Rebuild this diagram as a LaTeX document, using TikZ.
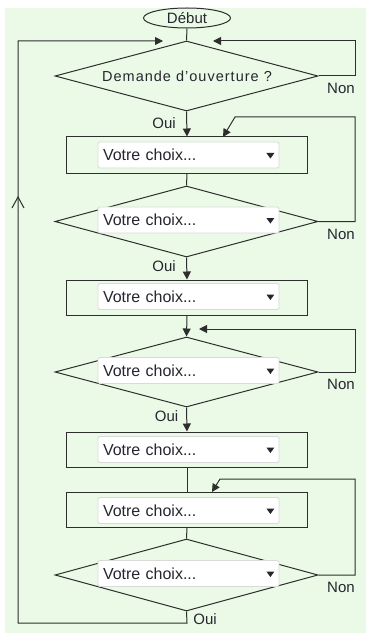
\documentclass[tikz,border=0pt]{standalone}
\usepackage{fontspec}
\setmainfont{Liberation Sans}
\usetikzlibrary{shapes.geometric,arrows.meta,calc}
\definecolor{bggreen}{HTML}{EAFAE6}
\definecolor{ln}{HTML}{2E2E2E}
\definecolor{txt}{HTML}{262630}
\definecolor{cbborder}{HTML}{DADADA}
\newcommand{\combobox}[3]{%
  \node[combo] (#1) at (#2,#3) {Votre choix...};
  \fill[txt] ($(#1.east)+(-13,-2)$) -- ($(#1.east)+(-5,-2)$) -- ($(#1.east)+(-9,3.5)$) -- cycle;}
\begin{document}
\begin{tikzpicture}[x=1bp,y=-1bp,
  every node/.style={font=\fontsize{15bp}{18bp}\selectfont, text=txt},
  line/.style={draw=ln, line width=1bp},
  arr/.style={line, -{Triangle[length=8bp,width=8bp]}},
  rectbox/.style={line, rectangle, minimum width=240bp, inner sep=0pt},
  decision/.style={line, diamond, minimum width=263bp, inner sep=0pt},
  start/.style={line, ellipse, minimum width=87bp, minimum height=20bp, inner sep=0pt},
  combo/.style={rectangle, fill=white, draw=cbborder, line width=0.8bp, rounded corners=1.5bp,
    minimum width=181bp, minimum height=26bp, text width=171bp, align=left, inner xsep=5bp, inner ysep=0pt,
    font=\fontsize{16bp}{18bp}\selectfont},
  lbl/.style={inner sep=0pt, font=\fontsize{15bp}{18bp}\selectfont}
]
\useasboundingbox (0,0) rectangle (373,637);
\fill[white] (0,0) rectangle (373,637);
\fill[bggreen] (5,8) rectangle (366,633);

% shapes
\node[start] (debut) at (187,18) {Début};
\node[decision, minimum height=70bp] (d1) at (186.5,76) {};
\node[lbl, font=\fontsize{14.5bp}{18bp}\selectfont\addfontfeature{LetterSpace=7}] (q1) at (187,76) {Demande d'ouverture ?};
\node[rectbox, minimum height=36bp] (r1) at (187,155) {};
\combobox{c1}{188.5}{155}
\node[decision, minimum height=71bp] (d2) at (186.5,221.5) {};
\combobox{c2}{188.5}{220}
\node[rectbox, minimum height=35bp] (r2) at (187,297.5) {};
\combobox{c3}{188.5}{296.5}
\node[decision, minimum height=70bp] (d3) at (186.5,372) {};
\combobox{c4}{188.5}{370.5}
\node[rectbox, minimum height=35bp] (r3) at (187,449.5) {};
\combobox{c5}{188.5}{449.5}
\node[rectbox, minimum height=35bp] (r4) at (187,509.5) {};
\combobox{c6}{188.5}{510.5}
\node[decision, minimum height=72bp] (d4) at (186.5,575) {};
\combobox{c7}{188.5}{573.5}

% labels
\node[lbl] (oui1) at (164,123) {Oui};
\node[lbl] (oui2) at (164,266) {Oui};
\node[lbl] (oui3) at (166.5,416) {Oui};
\node[lbl] (oui4) at (205,619) {Oui};
\node[lbl] (non1) at (341,88) {Non};
\node[lbl] (non2) at (341,234) {Non};
\node[lbl] (non3) at (341,384) {Non};
\node[lbl] (non4) at (341,587) {Non};

% coordinates for free ends
\coordinate (t1l) at (163,41);
\coordinate (t1r) at (213,41);
\coordinate (r1in) at (223,137);
\coordinate (d3in) at (199,329);
\coordinate (r4in) at (212,492);
\coordinate (chev) at (18,197);

% main flow
\draw[line] (debut.south) -- (d1.north);
\draw[arr] (d1.south) -- (r1.north);
\draw[line] (r1.south) -- (d2.north);
\draw[arr] (d2.south) -- (r2.north);
\draw[arr] (r2.south) -- (d3.north);
\draw[arr] (d3.south) -- (r3.north);
\draw[line] (r3.south) -- (r4.north);
\draw[line] (r4.south) -- (d4.north);
\draw[arr] (d4.south) -- (187,623) -- (18,623) -- (18,41) -- (t1l);
\draw[line] ($(chev)+(-6,11)$) -- (chev) -- ($(chev)+(6,11)$);

% Non loops
\draw[arr] (d1.east) -- (355,76) -- (355,41) -- (t1r);
\draw[arr] (d2.east) -- (355,221.5) -- (355,117) -- (235,117) -- (r1in);
\draw[arr] (d3.east) -- (355,372) -- (355,329) -- (d3in);
\draw[arr] (d4.east) -- (355,575) -- (355,479) -- (220,479) -- (r4in);
\end{tikzpicture}
\end{document}
